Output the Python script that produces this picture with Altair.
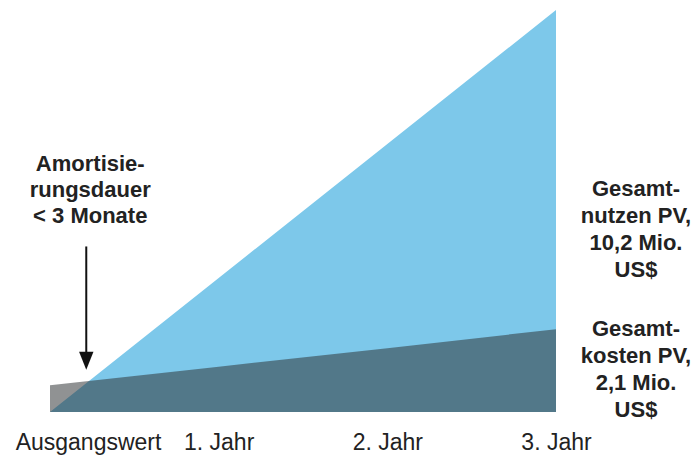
import altair as alt
import pandas as pd

# ---- data ----
years = [0, 1, 2, 3]
year_labels = ["Ausgangswert", "1. Jahr", "2. Jahr", "3. Jahr"]
nutzen = [0.0, 3.4, 6.8, 10.2]      # Gesamtnutzen PV (Mio. US$)
kosten = [0.68, 1.15, 1.62, 2.1]    # Gesamtkosten PV (Mio. US$)

nutzen_text = ["Gesamt-", "nutzen PV,", "10,2 Mio.", "US$"]
kosten_text = ["Gesamt-", "kosten PV,", "2,1 Mio.", "US$"]
amort_text = ["Amortisie-", "rungsdauer", "< 3 Monate"]
amort_year = 0.215   # payback < 3 months

df = pd.DataFrame({"jahr": years, "nutzen": nutzen, "kosten": kosten})

FONT = "Liberation Sans"
TXT = "#222222"

xscale = alt.Scale(domain=[0, 3], nice=False, zero=False)
yscale = alt.Scale(domain=[0, 10.2], nice=False)

label_expr = "[" + ",".join(f"'{l}'" for l in year_labels) + "][datum.value]"

xaxis = alt.Axis(
    values=years, labelExpr=label_expr, domain=False, ticks=False, tickSize=0,
    grid=False, title=None, labelFont=FONT, labelFontSize=23, labelColor=TXT,
    labelPadding=37, labelBaseline="alphabetic", labelFlush=False,
    labelOverlap=False,
    labelOffset=alt.condition("datum.value === 0", alt.value(38), alt.value(0)),
)

base = alt.Chart(df).encode(x=alt.X("jahr:Q", scale=xscale, axis=xaxis))

blue = base.mark_area(color="#7DC8EA", opacity=1).encode(
    y=alt.Y("nutzen:Q", scale=yscale, axis=None, stack=None)
)
dark = base.mark_area(color="#2A2E30", opacity=0.52).encode(
    y=alt.Y("kosten:Q", scale=yscale, axis=None, stack=None)
)

ann = pd.DataFrame({
    "x": [3, 3, amort_year],
    "y": [5.48, 1.92, 6.12],
    "t": ["\n".join(nutzen_text), "\n".join(kosten_text), "\n".join(amort_text)],
    "k": ["n", "k", "a"],
})

right_txt = alt.Chart(ann).transform_filter("datum.k !== 'a'").mark_text(
    font=FONT, fontSize=22, fontWeight="bold", color=TXT, align="center",
    baseline="alphabetic", lineBreak="\n", lineHeight=27, dx=80,
).encode(x=alt.X("x:Q", scale=xscale), y=alt.Y("y:Q", scale=yscale), text="t:N")

left_txt = alt.Chart(ann).transform_filter("datum.k === 'a'").mark_text(
    font=FONT, fontSize=22, fontWeight="bold", color=TXT, align="center",
    baseline="alphabetic", lineBreak="\n", lineHeight=26, dx=4,
).encode(x=alt.X("x:Q", scale=xscale), y=alt.Y("y:Q", scale=yscale), text="t:N")

arrow_df = pd.DataFrame({"x": [amort_year], "y": [4.2], "y2": [1.3]})
arrow_line = alt.Chart(arrow_df).mark_rule(color="#111111", strokeWidth=2).encode(
    x=alt.X("x:Q", scale=xscale), y=alt.Y("y:Q", scale=yscale), y2="y2:Q"
)
arrow_head = alt.Chart(arrow_df).mark_point(
    shape="M-0.8,-1L0.8,-1L0,1Z", filled=True, size=324, color="#111111", opacity=1
).encode(x=alt.X("x:Q", scale=xscale), y=alt.Y("y2:Q", scale=yscale))

chart = alt.layer(blue, dark, right_txt, left_txt, arrow_line, arrow_head).properties(
    width=506, height=402,
    padding={"left": 50, "top": 10, "right": 144, "bottom": 49},
    autosize=alt.AutoSizeParams(type="none"),
    background="white",
).configure_view(stroke=None)

chart.save("out.html", embed_options={"renderer": "svg", "actions": False})
